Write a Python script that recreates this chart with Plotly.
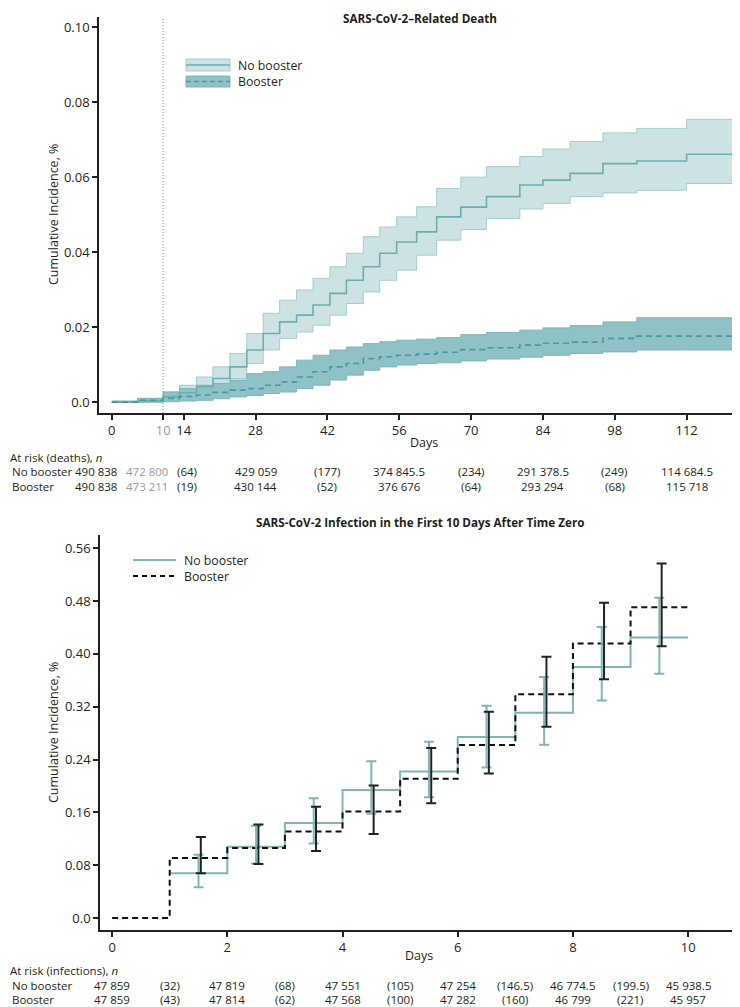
import plotly.graph_objects as go

# ---- SARS-CoV-2-related death (top panel) ----
death_days = [0, 5, 10, 13.2, 16.5, 19.7, 23, 26.3, 29.5, 32.7, 36, 39.2, 42.5, 45.7,
              49, 52.2, 55.5, 59.4, 63.3, 68, 73, 79.5, 84, 89.3, 95.7, 102.3, 112, 121]
nb_death = [0, 0.0003, 0.0014, 0.0025, 0.0041, 0.0063, 0.0094, 0.0139, 0.0183, 0.0214,
            0.0232, 0.0259, 0.0290, 0.0325, 0.0361, 0.0397, 0.0427, 0.0454, 0.0494,
            0.0520, 0.0548, 0.0579, 0.0592, 0.0610, 0.0636, 0.0643, 0.0661, 0.0663]
nb_death_hi = [0, 0.0010, 0.0027, 0.0045, 0.0067, 0.0094, 0.0130, 0.0183, 0.0237, 0.0272,
               0.0299, 0.0330, 0.0361, 0.0397, 0.0441, 0.0467, 0.0494, 0.0521, 0.0570,
               0.0600, 0.0628, 0.0655, 0.0675, 0.0695, 0.0718, 0.0730, 0.0754, 0.0754]
nb_death_lo = [0, 0, 0.0005, 0.0015, 0.0027, 0.0045, 0.0063, 0.0103, 0.0139, 0.0170,
               0.0187, 0.0205, 0.0232, 0.0263, 0.0294, 0.0325, 0.0352, 0.0392, 0.0432,
               0.0460, 0.0490, 0.0515, 0.0530, 0.0548, 0.0558, 0.0565, 0.0583, 0.0583]
b_death = [0, 0.0005, 0.0010, 0.0015, 0.0019, 0.0026, 0.0032, 0.0036, 0.0045, 0.0054,
           0.0067, 0.0081, 0.0094, 0.0103, 0.0116, 0.0121, 0.0125, 0.0128, 0.0133,
           0.0140, 0.0145, 0.0152, 0.0157, 0.0160, 0.0170, 0.0176, 0.0176, 0.0176]
b_death_hi = [0.0003, 0.0010, 0.0027, 0.0036, 0.0045, 0.0050, 0.0059, 0.0076, 0.0081,
              0.0094, 0.0112, 0.0125, 0.0139, 0.0147, 0.0156, 0.0161, 0.0165, 0.0168,
              0.0172, 0.0180, 0.0186, 0.0192, 0.0198, 0.0204, 0.0214, 0.0225, 0.0225, 0.0225]
b_death_lo = [0, 0, 0.0001, 0.0003, 0.0005, 0.0009, 0.0014, 0.0018, 0.0023, 0.0027,
              0.0036, 0.0045, 0.0059, 0.0072, 0.0085, 0.0094, 0.0099, 0.0103, 0.0105,
              0.0110, 0.0115, 0.0120, 0.0125, 0.0130, 0.0134, 0.0139, 0.0139, 0.0139]

death_ticks = [0, 10, 14, 28, 42, 56, 70, 84, 98, 112]
death_yticks = [0, 0.02, 0.04, 0.06, 0.08, 0.10]
death_ylabels = ["0.0", "0.02", "0.04", "0.06", "0.08", "0.10"]

death_risk_x = [-3.1, 6.8, 14.6, 28, 42, 56, 70, 84, 98, 112]
death_risk_nb = ["490 838", "472 800", "(64)", "429 059", "(177)", "374 845.5",
                 "(234)", "291 378.5", "(249)", "114 684.5"]
death_risk_b = ["490 838", "473 211", "(19)", "430 144", "(52)", "376 676",
                "(64)", "293 294", "(68)", "115 718"]

# ---- infection in first 10 days (bottom panel) ----
inf_days = [0, 1, 2, 3, 4, 5, 6, 7, 8, 9, 10]
nb_inf = [None, 0.068, 0.108, 0.144, 0.194, 0.222, 0.274, 0.311, 0.380, 0.425, 0.425]
b_inf = [0, 0.091, 0.106, 0.131, 0.1615, 0.211, 0.262, 0.339, 0.4156, 0.4705, 0.4705]

bar_days = [1.5, 2.5, 3.5, 4.5, 5.5, 6.5, 7.5, 8.5, 9.5]
nb_bar_lo = [0.0468, 0.0825, 0.1128, 0.158, 0.183, 0.228, 0.2626, 0.3295, 0.370]
nb_bar_hi = [0.0961, 0.140, 0.1816, 0.2375, 0.267, 0.3215, 0.365, 0.4408, 0.485]
b_bar_lo = [0.0679, 0.082, 0.1016, 0.1273, 0.174, 0.219, 0.2898, 0.3618, 0.4116]
b_bar_hi = [0.1228, 0.1419, 0.1686, 0.2008, 0.2577, 0.3125, 0.3955, 0.4775, 0.537]

inf_ticks = [0, 2, 4, 6, 8, 10]
inf_yticks = [0, 0.08, 0.16, 0.24, 0.32, 0.40, 0.48, 0.56]
inf_ylabels = ["0.0", "0.08", "0.16", "0.24", "0.32", "0.40", "0.48", "0.56"]

inf_risk_x = [0, 1, 2, 3, 4, 5, 6, 7, 8, 9, 10]
inf_risk_nb = ["47 859", "(32)", "47 819", "(68)", "47 551", "(105)", "47 254",
               "(146.5)", "46 774.5", "(199.5)", "45 938.5"]
inf_risk_b = ["47 859", "(43)", "47 814", "(62)", "47 568", "(100)", "47 282",
              "(160)", "46 799", "(221)", "45 957"]

# the page body keeps an 8px margin, so the figure is 8px smaller each way
OX, OY = 8, 8
W, H = 740 - OX, 1007 - OY
FONT = "'Open Sans', 'Noto Sans', sans-serif"
INK = "#231f20"
NB_FILL, NB_EDGE, NB_LINE = "#cce2e3", "#a3cdd0", "#6caeb3"
B_FILL, B_EDGE, B_LINE = "#8ec2c6", "#7ab6ba", "#4c989e"
TEAL = "#7fb5b9"
TABLE = 11.5


def px(x):
    return (x - OX) / W


def py(y):
    return 1 - (y - OY) / H


X1_DOM, X1_RNG = [px(99), 1], [-2.5, 122.4]
X2_DOM, X2_RNG = [px(100), 1], [-0.21, 10.9]


def data_x(v, dom, rng):
    return dom[0] + (v - rng[0]) / (rng[1] - rng[0]) * (dom[1] - dom[0])


fig = go.Figure()

# top panel bands + curves
fig.add_trace(go.Scatter(x=death_days, y=nb_death_lo, mode="lines", line_shape="hv",
                         line=dict(color=NB_EDGE, width=1), showlegend=False))
fig.add_trace(go.Scatter(x=death_days, y=nb_death_hi, mode="lines", line_shape="hv",
                         line=dict(color=NB_EDGE, width=1), fill="tonexty",
                         fillcolor=NB_FILL, showlegend=False))
fig.add_trace(go.Scatter(x=death_days, y=b_death_lo, mode="lines", line_shape="hv",
                         line=dict(color=B_EDGE, width=1), showlegend=False))
fig.add_trace(go.Scatter(x=death_days, y=b_death_hi, mode="lines", line_shape="hv",
                         line=dict(color=B_EDGE, width=1), fill="tonexty",
                         fillcolor=B_FILL, showlegend=False))
fig.add_trace(go.Scatter(x=death_days, y=nb_death, mode="lines", line_shape="hv",
                         line=dict(color=NB_LINE, width=1.6), showlegend=False))
fig.add_trace(go.Scatter(x=death_days, y=b_death, mode="lines", line_shape="hv",
                         line=dict(color=B_LINE, width=1.6, dash="6px,4px"),
                         showlegend=False))

# bottom panel steps + error bars
fig.add_trace(go.Scatter(x=inf_days, y=nb_inf, mode="lines", line_shape="hv",
                         line=dict(color=TEAL, width=2), showlegend=False,
                         xaxis="x2", yaxis="y2"))
fig.add_trace(go.Scatter(x=inf_days, y=b_inf, mode="lines", line_shape="hv",
                         line=dict(color="#111111", width=2, dash="6px,4px"),
                         showlegend=False, xaxis="x2", yaxis="y2"))
nb_mid = nb_inf[1:10]
b_mid = b_inf[1:10]
fig.add_trace(go.Scatter(
    x=bar_days, y=nb_mid, mode="markers", marker=dict(size=1, color="rgba(0,0,0,0)"),
    error_y=dict(type="data", symmetric=False,
                 array=[h - m for h, m in zip(nb_bar_hi, nb_mid)],
                 arrayminus=[m - l for l, m in zip(nb_bar_lo, nb_mid)],
                 color=TEAL, thickness=2, width=5),
    showlegend=False, xaxis="x2", yaxis="y2"))
fig.add_trace(go.Scatter(
    x=[d + 0.04 for d in bar_days], y=b_mid, mode="markers",
    marker=dict(size=1, color="rgba(0,0,0,0)"),
    error_y=dict(type="data", symmetric=False,
                 array=[h - m for h, m in zip(b_bar_hi, b_mid)],
                 arrayminus=[m - l for l, m in zip(b_bar_lo, b_mid)],
                 color="#222222", thickness=2, width=5),
    showlegend=False, xaxis="x2", yaxis="y2"))

axis_common = dict(showline=True, linecolor=INK, linewidth=1.5, ticks="outside",
                   ticklen=5, tickwidth=1.5, tickcolor=INK, showgrid=False,
                   zeroline=False, tickfont=dict(family=FONT, size=13, color=INK))

death_xlabels = [f"<span style='color:#9a9a9a'>{t}</span>" if t == 10 else str(t)
                 for t in death_ticks]

fig.update_layout(
    width=W, height=H,
    margin=dict(l=0, r=0, t=0, b=0),
    paper_bgcolor="white", plot_bgcolor="white",
    font=dict(family=FONT, color=INK),
    xaxis=dict(domain=X1_DOM, range=X1_RNG, tickvals=death_ticks,
               ticktext=death_xlabels, anchor="y", **axis_common),
    yaxis=dict(domain=[py(413), py(17)], range=[-0.0029, 0.1027],
               tickvals=death_yticks, ticktext=death_ylabels, anchor="x", **axis_common),
    xaxis2=dict(domain=X2_DOM, range=X2_RNG, tickvals=inf_ticks,
                anchor="y2", **axis_common),
    yaxis2=dict(domain=[py(930), py(535)], range=[-0.018, 0.58], tickvals=inf_yticks,
                ticktext=inf_ylabels, anchor="x2", **axis_common),
)

# dotted line at day 10
fig.add_shape(type="line", x0=10, x1=10, y0=0, y1=1, xref="x", yref="y domain",
              line=dict(color="#8a8a8a", width=1, dash="1px,2px"))

shapes = []
# legend, top panel
shapes.append(dict(type="rect", xref="paper", yref="paper", x0=px(186), x1=px(230),
                   y0=py(71), y1=py(59), fillcolor=NB_FILL, line=dict(color=NB_EDGE, width=1)))
shapes.append(dict(type="line", xref="paper", yref="paper", x0=px(186), x1=px(230),
                   y0=py(65), y1=py(65), line=dict(color=NB_LINE, width=1.6)))
shapes.append(dict(type="rect", xref="paper", yref="paper", x0=px(186), x1=px(230),
                   y0=py(87), y1=py(76), fillcolor=B_FILL, line=dict(color=B_EDGE, width=1)))
shapes.append(dict(type="line", xref="paper", yref="paper", x0=px(186), x1=px(230),
                   y0=py(81.5), y1=py(81.5), line=dict(color=B_LINE, width=1.6, dash="5px,3px")))
# legend, bottom panel
shapes.append(dict(type="line", xref="paper", yref="paper", x0=px(133), x1=px(176),
                   y0=py(560), y1=py(560), line=dict(color=TEAL, width=2)))
shapes.append(dict(type="line", xref="paper", yref="paper", x0=px(133), x1=px(176),
                   y0=py(576), y1=py(576), line=dict(color="#111111", width=2, dash="5px,4px")))
for s in shapes:
    fig.add_shape(**s)


def note(text, x, y, size=TABLE, xanchor="center", yanchor="middle", color=INK, **kw):
    fig.add_annotation(text=text, x=x, y=y, xref="paper", yref="paper", showarrow=False,
                       xanchor=xanchor, yanchor=yanchor,
                       font=dict(family=FONT, size=size, color=color), **kw)


note("<b>SARS-CoV-2–Related Death</b>", px(420), 1, size=11.7, yanchor="top")
note("<b>SARS-CoV-2 Infection in the First 10 Days After Time Zero</b>", px(420), py(522),
     size=11.7)
note("No booster", px(236), py(65), xanchor="left", size=12.3)
note("Booster", px(236), py(81), xanchor="left", size=12.3)
note("No booster", px(182), py(560), xanchor="left", size=12.3)
note("Booster", px(182), py(576), xanchor="left", size=12.3)
note("Cumulative Incidence, %", px(53), py(215), textangle=-90, size=12.5)
note("Cumulative Incidence, %", px(53), py(733), textangle=-90, size=12.5)
note("Days", px(424), py(442), size=12.5)
note("Days", px(419), py(955), size=12.5)

# at-risk tables
note("At risk (deaths), <i>n</i>", px(OX), py(457), xanchor="left")
note("No booster", px(10), py(472), xanchor="left")
note("Booster", px(10), py(487), xanchor="left")
for xv, t_nb, t_b in zip(death_risk_x, death_risk_nb, death_risk_b):
    gray = "#9a9a9a" if xv == 6.8 else INK
    xp = data_x(xv, X1_DOM, X1_RNG)
    note(t_nb, xp, py(472), color=gray)
    note(t_b, xp, py(487), color=gray)

note("At risk (infections), <i>n</i>", px(OX), py(970), xanchor="left")
note("No booster", px(10), py(985), xanchor="left")
note("Booster", px(10), py(999), xanchor="left")
for xv, t_nb, t_b in zip(inf_risk_x, inf_risk_nb, inf_risk_b):
    xp = data_x(xv, X2_DOM, X2_RNG)
    note(t_nb, xp, py(985))
    note(t_b, xp, py(999))

fig.write_html("out.html")
